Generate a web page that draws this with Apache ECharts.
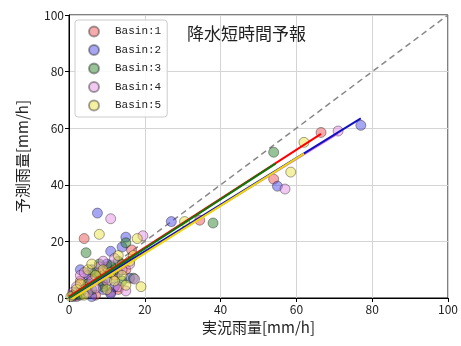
<!DOCTYPE html>
<html>
<head>
<meta charset="utf-8">
<script src="https://cdn.jsdelivr.net/npm/echarts@6/dist/echarts.min.js"></script>
<style>
  html, body { margin: 0; padding: 0; background: #fff; }
  #chart1 { width: 461px; height: 346px; }
</style>
</head>
<body>
<div id="chart1"></div>
<script>
var basinNames = ['Basin:1', 'Basin:2', 'Basin:3', 'Basin:4', 'Basin:5'];
var basin1 = [[4, 21], [16.5, 17], [54, 42], [66.5, 58.5], [34.5, 27.5], [1, 1], [2, 0.5], [3, 2], [5, 4], [6, 7],
    [8, 9], [9, 5], [10, 11], [12, 8], [13, 3], [14, 12], [11, 2], [7, 1], [15, 10], [3, 6]];
var basin2 = [[7.5, 30], [15, 21.5], [11, 16.5], [14, 18], [27, 27], [77, 61], [55, 39.5], [9, 3], [1, 0.5], [2, 1],
    [4, 3], [5, 8], [6, 10], [8, 6], [10, 12], [12, 4], [13, 9], [3, 10], [6, 0.5], [16, 7], [11, 1.5]];
var basin3 = [[4.5, 16], [15, 19.5], [38, 26.5], [54, 51.5], [1, 1], [2, 2], [3, 1], [5, 5], [7, 9], [8, 12],
    [9, 4], [10, 7], [12, 10], [13, 13], [6, 3], [14, 6], [11, 11.5], [17, 7]];
var basin4 = [[11, 28], [19.5, 22], [17.3, 6.7], [13, 4], [57, 38.5], [71, 59], [1, 2], [2, 4], [3, 8], [4, 9],
    [5, 2], [6, 6], [8, 11], [9, 13], [10, 6], [12, 14], [14, 10], [16, 12], [7, 3.5], [15, 2.5]];
var basin5 = [[8, 22.5], [18, 21], [19, 4], [30.5, 27], [58.5, 44.5], [62, 55], [0.5, 0.5], [2, 3], [3, 5], [4, 1],
    [5, 10], [6, 12], [7, 8], [9, 10], [10, 3], [11, 9], [12, 6], [13, 15], [14, 8], [16, 13], [15, 4.5], [17, 15]];
// regression line end points per basin
var fit1 = [[0, 0.5], [66.5, 58]];
var fit2 = [[0, 0], [77, 63.5]];
var fit3 = [[0, 0], [54.5, 47.5]];
var fit4 = [[0, -0.3], [71, 58.2]];
var fit5 = [[0, -1], [62, 51]];
var oneToOne = [[0, 0], [100, 100]];
var axisTicks = [0, 20, 40, 60, 80, 100];

var points = [basin1, basin2, basin3, basin4, basin5];
var fits = [fit1, fit2, fit3, fit4, fit5];
var fillColors = ['rgba(235,80,80,0.6)', 'rgba(70,70,230,0.6)', 'rgba(40,130,40,0.6)',
    'rgba(225,140,225,0.6)', 'rgba(235,225,60,0.6)'];
var lineColors = ['#ff0000', '#1010c0', '#0a7a0a', '#d070e0', '#f0d800'];
// drawing order of fit lines (violet sits under blue)
var lineOrder = [3, 0, 1, 2, 4];

var chartDom = document.getElementById('chart1');
var myChart = echarts.init(chartDom);
var option;

var series = [{
    type: 'line',
    data: oneToOne,
    showSymbol: false,
    silent: true,
    z: 1,
    lineStyle: {color: '#888', width: 1.5, type: [6, 4]}
}];
for (var i = 0; i < 5; i++) {
    series.push({
        name: basinNames[i],
        type: 'scatter',
        data: points[i],
        symbolSize: 10,
        z: 2,
        itemStyle: {color: fillColors[i], borderColor: 'rgba(0,0,0,0.45)', borderWidth: 1}
    });
}
lineOrder.forEach(function (j) {
    series.push({
        type: 'line',
        data: fits[j],
        showSymbol: false,
        z: 3,
        lineStyle: {color: lineColors[j], width: 2}
    });
});

var axisCommon = {
    type: 'value',
    min: axisTicks[0],
    max: axisTicks[axisTicks.length - 1],
    interval: 20,
    nameLocation: 'middle',
    nameTextStyle: {fontSize: 15, color: '#222', fontFamily: 'Noto Sans CJK JP'},
    axisLine: {show: true, lineStyle: {color: '#000'}},
    axisTick: {show: true, length: 4, lineStyle: {color: '#000'}},
    axisLabel: {fontSize: 12, color: '#222', fontFamily: 'Noto Sans CJK JP', margin: 5},
    splitLine: {show: true, lineStyle: {color: '#d4d4d4'}}
};

option = {
    animation: false,
    title: {
        text: '降水短時間予報',
        left: 182,
        top: 20,
        textStyle: {fontSize: 17, fontWeight: 'normal', color: '#222', fontFamily: 'Noto Sans CJK JP'}
    },
    grid: {left: 69, right: 10, top: 15, bottom: 48, show: true, borderColor: '#000', borderWidth: 1},
    legend: {
        data: basinNames,
        orient: 'vertical',
        left: 75,
        top: 20,
        padding: [5, 6, 5, 13],
        itemGap: 5.5,
        itemWidth: 10,
        itemHeight: 10,
        icon: 'circle',
        backgroundColor: 'rgba(255,255,255,0.85)',
        borderColor: '#ccc',
        borderWidth: 1,
        borderRadius: 3,
        textStyle: {fontSize: 11, lineHeight: 13, color: '#222', fontFamily: 'Liberation Mono', padding: [0, 0, 0, 11]}
    },
    xAxis: Object.assign({}, axisCommon, {name: '実況雨量[mm/h]', nameGap: 21}),
    yAxis: Object.assign({}, axisCommon, {name: '予測雨量[mm/h]', nameGap: 39}),
    series: series
};

option && myChart.setOption(option);
</script>
</body>
</html>
